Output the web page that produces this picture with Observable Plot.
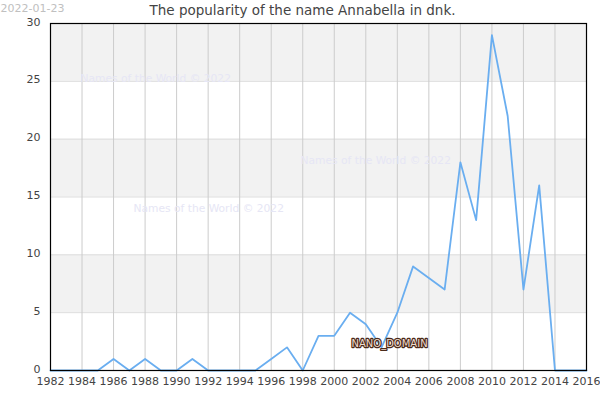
<!DOCTYPE html>
<html><head><meta charset="utf-8">
<script src="https://cdn.jsdelivr.net/npm/d3@7"></script>
<script src="https://cdn.jsdelivr.net/npm/@observablehq/plot@0.6"></script>
<style>body{margin:0;background:#fff}svg{font-family:"DejaVu Sans",sans-serif}</style>
</head><body><div id="chart"></div>
<script>
const years = [1982,1983,1984,1985,1986,1987,1988,1989,1990,1991,1992,1993,1994,1995,1996,1997,1998,1999,2000,2001,2002,2003,2004,2005,2006,2007,2008,2009,2010,2011,2012,2013,2014,2015,2016];
const counts = [0,0,0,0,1,0,1,0,0,1,0,0,0,0,1,2,0,3,3,5,4,2,5,9,8,7,18,13,29,22,7,16,0,0,0];
const xTicks = [1982,1984,1986,1988,1990,1992,1994,1996,1998,2000,2002,2004,2006,2008,2010,2012,2014,2016];
const yTicks = [0,5,10,15,20,25,30];
const bandLow = [5,15,25];
const bandHigh = [10,20,30];
const title = "The popularity of the name Annabella in dnk.";
const dateText = "2022-01-23";
const watermark = "Names of the World © 2022";
const nano = "NANO_DOMAIN";

const data = years.map((y,i)=>({year:y, value:counts[i]}));
const bands = bandLow.map((lo,i)=>({lo, hi:bandHigh[i]}));

const plot = Plot.plot({
  width:600, height:400,
  marginLeft:50, marginRight:14, marginTop:23, marginBottom:30,
  style:{fontFamily:"DejaVu Sans, sans-serif", fontSize:"11px", color:"#444", background:"#fff", overflow:"visible"},
  x:{domain:[1982,2016], ticks:xTicks, tickFormat:"d", tickSize:0, tickPadding:7, label:null},
  y:{domain:[0,30], ticks:yTicks, tickSize:0, tickPadding:10, label:null},
  marks:[
    Plot.rectY(bands,{y1:"lo", y2:"hi", fill:"#f2f2f2"}),
    Plot.gridY(yTicks,{stroke:"#dddddd", strokeOpacity:1}),
    Plot.gridX(xTicks,{stroke:"#cccccc", strokeOpacity:1}),
    Plot.text([watermark],{frameAnchor:"top-left", dx:30, dy:51, fill:"#e6e6f5", fontSize:10.7, textAnchor:"start"}),
    Plot.text([watermark],{frameAnchor:"top-left", dx:250, dy:133, fill:"#e6e6f5", fontSize:10.7, textAnchor:"start"}),
    Plot.text([watermark],{frameAnchor:"top-left", dx:83, dy:181, fill:"#e6e6f5", fontSize:10.7, textAnchor:"start"}),
    Plot.line(data,{x:"year", y:"value", stroke:"#6aaef0", strokeWidth:1.8}),
    Plot.text([nano],{frameAnchor:"top-left", dx:301, dy:316, fill:"#f0ddd0", stroke:"#4a2a1a", strokeWidth:2.4, paintOrder:"stroke", fontSize:10, textAnchor:"start"}),
    Plot.frame({stroke:"#000", strokeWidth:1.2}),
    Plot.axisX({ticks:xTicks, tickFormat:"d", tickSize:0, tickPadding:7, fill:"#444"}),
    Plot.axisY({ticks:yTicks, tickSize:0, tickPadding:10, dy:-1.5, fill:"#444"}),
    Plot.text([title],{frameAnchor:"top-left", dx:252, dy:-13, fontSize:13.5, fill:"#444", textAnchor:"middle", lineAnchor:"middle"}),
    Plot.text([dateText],{frameAnchor:"top-left", dx:-50, dy:-19, fontSize:11, fill:"#c0c0c0", textAnchor:"start"})
  ]
});
document.getElementById("chart").appendChild(plot);
</script></body></html>
